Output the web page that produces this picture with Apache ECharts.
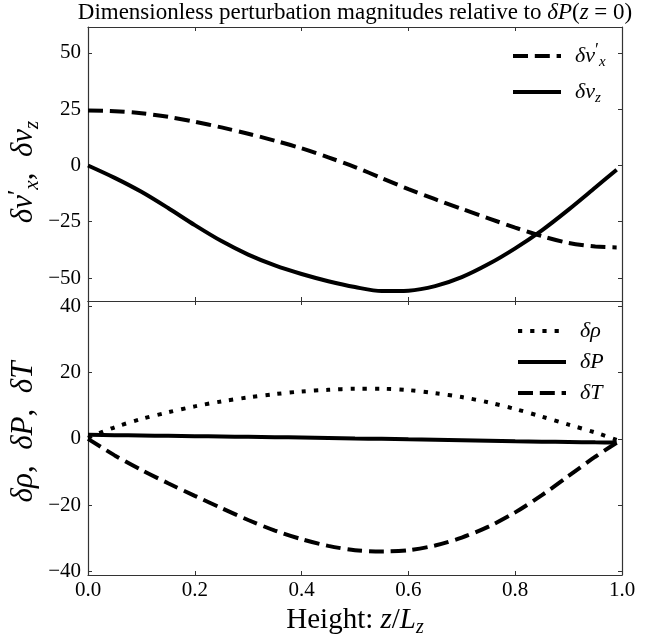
<!DOCTYPE html>
<html>
<head>
<meta charset="utf-8">
<script src="https://cdn.jsdelivr.net/npm/echarts@6/dist/echarts.min.js"></script>
<style>html,body{margin:0;padding:0;background:#fff}#c{width:653px;height:643px}</style>
</head>
<body>
<div id="c"></div>
<script>
const zs   = [0,0.05,0.1,0.15,0.2,0.25,0.3,0.35,0.4,0.45,0.5,0.55,0.6,0.65,0.7,0.75,0.8,0.85,0.9,0.95,0.99];
const dvx  = [24.4,24.1,23.2,21.6,19.4,16.9,14.1,11.0,7.6,3.6,-0.7,-5.6,-10.5,-15.0,-19.3,-23.5,-27.6,-31.4,-34.4,-36.0,-36.4];
const dvz  = [0,-5.5,-11.7,-18.9,-26.5,-33.6,-39.6,-44.4,-48.2,-51.4,-54.0,-55.8,-55.6,-53.6,-49.6,-43.8,-36.8,-28.8,-19.6,-9.8,-1.9];
const drho = [0.3,3.5,6.0,8.0,9.8,11.3,12.5,13.5,14.3,14.8,15.1,15.1,14.7,13.8,12.6,11.0,9.0,6.7,4.3,1.9,-0.3];
const dP   = [1.2,1.1,1.0,0.9,0.8,0.7,0.6,0.5,0.4,0.25,0.1,0,-0.15,-0.3,-0.45,-0.6,-0.75,-0.85,-0.95,-1.05,-1.1];
const dT   = [0,-5.0,-9.4,-13.4,-17.2,-20.9,-24.5,-27.7,-30.3,-32.3,-33.6,-34.0,-33.6,-32.2,-29.8,-26.5,-22.2,-17.0,-11.2,-5.4,-1.2];
const yTicksTop = [-50,-25,0,25,50];
const yTicksBot = [-40,-20,0,20,40];

const FONT = 'Liberation Serif';
const INK = '#000';
const FRAME = '#333';
const pair = (ys) => zs.map((z,i) => [z, ys[i]]);
const fmtY = v => (v < 0 ? '\u2212' + Math.abs(v) : String(v));
const fmtX = v => v.toFixed(1);

const richMath = (size) => ({
  r:  {fontFamily: FONT, fontSize: size, color: INK, lineHeight: size + 6},
  i:  {fontFamily: FONT, fontSize: size, fontStyle: 'italic', color: INK, lineHeight: size + 6},
  s:  {fontFamily: FONT, fontSize: Math.round(size*0.68), fontStyle: 'italic', color: INK, lineHeight: Math.round(size*0.45), verticalAlign: 'bottom'},
  p:  {fontFamily: FONT, fontSize: Math.round(size*0.8), color: INK, lineHeight: Math.round(size*0.9), verticalAlign: 'top'},
  pad:{width: 9}
});

const legendLabels = {
  'dvx': '{pad|}{i|δv}{p|′}{s|x}',
  'dvz': '{pad|}{i|δv}{s|z}',
  'drho': '{pad|}{i|δρ}',
  'dP': '{pad|}{i|δP}',
  'dT': '{pad|}{i|δT}'
};

const lineCommon = {show: true, onZero: false, lineStyle: {color: FRAME, width: 1.2}};

function xAx(grid, pos, labels) {
  return {
    type: 'value', gridIndex: grid, position: pos, min: 0, max: 1, interval: 0.2,
    axisLine: lineCommon, axisTick: {show: true, inside: true, length: 4, lineStyle: {color: FRAME, width: 1}},
    splitLine: {show: false},
    axisLabel: {show: labels, formatter: fmtX, fontFamily: FONT, fontSize: 21, color: INK, margin: 5}
  };
}
function yAx(grid, pos, labels, min, max, vals) {
  return {
    type: 'value', gridIndex: grid, position: pos, min: min, max: max,
    axisLine: lineCommon,
    axisTick: {show: true, inside: true, length: 4, lineStyle: {color: FRAME, width: 1}, customValues: vals},
    splitLine: {show: false},
    axisLabel: {show: labels, customValues: vals, formatter: fmtY, fontFamily: FONT, fontSize: 21, color: INK, margin: 7}
  };
}

const dashed = [15, 6.8];
const dotted = [4.2, 8.0];
function ser(name, ys, xi, yi, type) {
  return {
    name: name, type: 'line', xAxisIndex: xi, yAxisIndex: yi, data: pair(ys),
    symbol: 'none', showSymbol: false, smooth: 0.3, animation: false,
    lineStyle: {color: INK, width: 4, type: type, cap: 'butt'},
    itemStyle: {color: INK}
  };
}

function mathText(x, y, text, size, rot) {
  return {
    type: 'text', x: x, y: y, rotation: rot || 0, silent: true,
    style: {text: text, align: 'center', verticalAlign: 'middle', rich: richMath(size)}
  };
}

const legendBase = {
  orient: 'vertical', itemWidth: 48, itemHeight: 14,
  itemStyle: {opacity: 0}, lineStyle: {width: 4, cap: 'butt'},
  formatter: n => legendLabels[n], textStyle: {rich: richMath(22)}, selectedMode: false
};

const chart = echarts.init(document.getElementById('c'), null, {renderer: 'canvas'});
chart.setOption({
  animation: false,
  backgroundColor: '#fff',
  grid: [
    {left: 88, right: 31, top: 27, height: 274, show: false},
    {left: 88, right: 31, top: 301, height: 274, show: false}
  ],
  xAxis: [xAx(0,'bottom',false), xAx(0,'top',false), xAx(1,'bottom',true), xAx(1,'top',false)],
  yAxis: [
    yAx(0,'left',true,-60.2,61.5,yTicksTop),
    yAx(0,'right',false,-60.2,61.5,yTicksTop),
    yAx(1,'left',true,-41.1,41.6,yTicksBot),
    yAx(1,'right',false,-41.1,41.6,yTicksBot)
  ],
  legend: [
    Object.assign({}, legendBase, {data: ['dvx','dvz'], left: 506, top: 37, itemGap: 11}),
    Object.assign({}, legendBase, {data: ['drho','dP','dT'], left: 511, top: 315, itemGap: 9})
  ],
  graphic: [
    mathText(355, 13, '{r|Dimensionless perturbation magnitudes relative to }{i|δP}{r|(}{i|z}{r| = 0)}', 23),
    mathText(24, 172, '{i|δv}{p|′}{s|x}{r|,  }{i|δv}{s|z}', 31, Math.PI/2),
    mathText(24, 432, '{i|δρ}{r|,  }{i|δP}{r|,  }{i|δT}', 31, Math.PI/2),
    mathText(355, 620, '{r|Height: }{i|z}{r|/}{i|L}{s|z}', 29)
  ],
  series: [
    ser('dvx', dvx, 0, 0, dashed),
    ser('dvz', dvz, 0, 0, 'solid'),
    ser('drho', drho, 2, 2, dotted),
    ser('dP', dP, 2, 2, 'solid'),
    ser('dT', dT, 2, 2, dashed)
  ]
});
</script>
</body>
</html>
